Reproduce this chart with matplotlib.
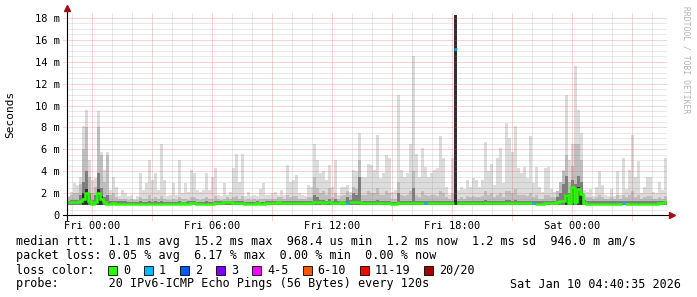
import matplotlib
matplotlib.use("Agg")
import matplotlib.pyplot as plt
from matplotlib.patches import Rectangle
import numpy as np

# ---------------- data ----------------
start_hour = -1.25      # hours relative to Fri 00:00
step_hours = 0.15       # one bin = 9 minutes
smoke_floor = 0.92      # ms

ping_max = [
    1.7, 2.1, 2.9, 2.7, 3.5, 8.1, 9.6, 5.0, 3.2, 3.4, 9.5, 5.8, 4.1, 5.8, 2.3, 3.5, 2.6, 1.7, 2.3, 2.0,
    1.7, 1.8, 1.5, 1.7, 3.8, 2.3, 2.9, 5.0, 3.2, 3.8, 2.3, 6.5, 3.2,
    1.7, 1.8, 2.9, 1.8, 5.0, 2.0, 2.9, 2.1, 4.1, 3.8, 2.3, 2.1, 2.3, 3.8, 2.3, 3.5, 4.3, 1.8, 1.7, 2.9,
    1.8, 2.1, 4.3, 5.6, 3.0, 5.6, 1.7, 2.1, 1.7, 1.8, 1.7, 2.4, 2.9,
    1.8, 1.8, 2.0, 2.1, 1.8, 2.3, 1.8, 4.6, 3.0, 3.2, 3.7, 2.0, 1.8, 1.7, 2.7, 2.6, 6.5, 5.0, 3.8, 4.0,
    3.2, 4.6, 2.6, 5.0, 1.8, 2.6, 2.6, 2.7, 2.1, 4.1, 4.0, 7.5, 3.5,
    3.5, 4.7, 4.6, 4.1, 7.3, 3.4, 3.8, 5.5, 5.2, 2.1, 2.3, 11.0, 4.1, 3.5, 3.8, 6.5, 14.5, 5.6, 3.5, 6.1,
    4.4, 3.5, 3.8, 4.1, 4.3, 7.2, 5.2, 2.6, 1.8, 5.2, 18.3, 2.3, 2.6, 2.4,
    3.2, 2.6, 3.4, 3.2, 2.6, 3.2, 6.7, 4.0, 4.7, 2.7, 5.2, 6.1, 2.9, 8.4, 7.0, 5.8, 8.1, 4.3, 3.8, 4.4,
    3.4, 7.2, 2.9, 4.4, 2.6, 2.1, 4.3, 4.4, 2.4, 2.1, 2.1, 2.4, 4.1,
    11.0, 5.0, 6.5, 13.6, 9.6, 7.5, 2.3, 2.1, 2.4, 1.7, 2.6, 4.0, 2.7, 1.8, 1.7, 2.4, 1.7, 4.0, 1.8, 5.2,
    2.4, 4.1, 7.3, 3.5, 4.9, 2.0, 2.6, 3.5, 3.5, 2.1, 2.0, 3.0, 2.3, 5.2,
]

ping_hi = [
    1.6, 1.8, 2.0, 2.0, 2.8, 6.0, 8.0, 3.5, 2.0, 2.6, 8.0, 5.5, 3.0, 5.5, 1.8, 2.0, 1.6, 1.5, 1.5, 1.5,
    1.4, 1.5, 1.4, 1.4, 1.6, 1.5, 1.5, 1.8, 1.5, 1.6, 1.5, 1.7, 1.5, 1.4, 1.4, 1.5, 1.4, 1.6, 1.5, 1.5,
    1.4, 1.6, 1.6, 1.5, 1.4, 1.5, 1.6, 1.5, 1.5, 1.7, 1.5, 1.4, 1.5, 1.6, 1.5, 1.6, 1.7, 1.5, 1.7, 1.4,
    1.5, 1.4, 1.5, 1.4, 1.5, 1.5, 1.5, 1.5, 1.5, 1.5, 1.6, 1.6, 1.5, 1.8, 1.6, 1.7, 1.7, 1.5, 1.5, 1.5,
    1.6, 1.6, 3.5, 2.5, 2.0, 2.2, 1.8, 2.5, 1.6, 2.0, 1.5, 1.7, 1.8, 2.2, 1.8, 2.6, 2.4, 5.0, 1.8, 1.8,
    2.2, 2.0, 2.0, 2.5, 1.8, 1.8, 2.2, 2.0, 1.5, 1.5, 3.0, 1.8, 1.7, 1.8, 2.2, 4.0, 1.8, 1.6, 2.2, 1.8,
    1.7, 1.8, 1.8, 1.7, 2.2, 2.0, 1.6, 1.5, 2.0, 18.3, 1.5, 1.6, 1.5, 1.7, 1.6, 1.7, 1.6, 1.6, 1.7, 2.2,
    1.8, 2.0, 1.6, 1.8, 2.0, 1.6, 2.2, 2.2, 2.0, 2.4, 1.8, 1.8, 1.8, 1.7, 2.0, 1.6, 1.8, 1.5, 1.5, 1.8,
    1.8, 1.6, 1.6, 2.2, 3.0, 4.0, 5.5, 3.0, 4.5, 6.5, 6.5, 5.0, 1.8, 1.6, 1.6, 1.5, 1.6, 1.8, 1.6, 1.5,
    1.5, 1.6, 1.5, 1.8, 1.5, 1.8, 1.6, 1.8, 2.2, 1.6, 1.8, 1.5, 1.6, 1.7, 1.7, 1.5, 1.5, 1.6, 1.5, 1.7,
]

ping_dark = [
    1.3, 1.35, 1.4, 1.4, 1.8, 3.0, 4.0, 2.0, 1.35, 1.8, 3.8, 2.5, 1.6, 1.8, 1.3, 1.3, 1.25, 1.25, 1.25, 1.25,
    1.2, 1.2, 1.2, 1.2, 1.25, 1.2, 1.2, 1.25, 1.2, 1.25, 1.2, 1.25, 1.2, 1.2, 1.2, 1.2, 1.2, 1.25, 1.2, 1.2,
    1.25, 1.25, 1.25, 1.2, 1.2, 1.2, 1.25, 1.2, 1.2, 1.25, 1.25, 1.25, 1.3, 1.3, 1.3, 1.25, 1.25, 1.25, 1.25, 1.2,
    1.2, 1.2, 1.2, 1.25, 1.2, 1.2, 1.25, 1.25, 1.25, 1.25, 1.3, 1.25, 1.25, 1.3, 1.25, 1.3, 1.3, 1.25, 1.25, 1.25,
    1.3, 1.3, 1.8, 1.6, 1.4, 1.4, 1.3, 1.5, 1.3, 1.5, 1.3, 1.3, 1.3, 1.6, 1.4, 2.0, 1.8, 3.5, 1.3, 1.3,
    1.3, 1.3, 1.3, 1.4, 1.3, 1.3, 1.3, 1.3, 1.2, 1.2, 2.0, 1.3, 1.3, 1.3, 1.3, 2.5, 1.3, 1.3, 1.3, 1.3,
    1.3, 1.3, 1.3, 1.3, 1.3, 1.3, 1.3, 1.25, 1.3, 18.3, 1.25, 1.3, 1.25, 1.3, 1.3, 1.3, 1.3, 1.3, 1.3, 1.35,
    1.3, 1.3, 1.3, 1.3, 1.3, 1.3, 1.35, 1.35, 1.3, 1.4, 1.3, 1.3, 1.3, 1.3, 1.3, 1.3, 1.25, 1.25, 1.25, 1.3,
    1.3, 1.3, 1.3, 1.6, 2.0, 2.8, 3.6, 2.0, 3.2, 2.8, 3.6, 3.0, 1.4, 1.3, 1.3, 1.3, 1.3, 1.3, 1.3, 1.25,
    1.25, 1.25, 1.25, 1.3, 1.25, 1.3, 1.25, 1.3, 1.3, 1.25, 1.3, 1.25, 1.25, 1.3, 1.3, 1.25, 1.25, 1.3, 1.3, 1.3,
]

median = [
    1.15, 1.15, 1.15, 1.2, 1.3, 1.5, 2.0, 1.3, 1.05, 1.2, 2.0, 1.5, 1.15, 1.0, 1.05, 1.1, 1.0, 1.05, 1.05, 1.05,
    1.05, 1.05, 1.0, 1.05, 1.05, 1.05, 1.05, 1.05, 1.05, 1.05, 1.05, 1.05, 1.05, 1.05, 1.05, 1.05, 1.05, 1.05, 1.1, 1.05,
    1.05, 1.1, 1.1, 1.05, 1.05, 1.05, 1.05, 1.05, 1.05, 1.1, 1.1, 1.1, 1.15, 1.2, 1.15, 1.1, 1.1, 1.1, 1.1, 1.05,
    1.05, 1.05, 1.05, 1.1, 1.05, 1.05, 1.1, 1.1, 1.1, 1.1, 1.15, 1.1, 1.1, 1.1, 1.1, 1.1, 1.1, 1.1, 1.1, 1.1,
    1.1, 1.1, 1.15, 1.15, 1.15, 1.1, 1.15, 1.15, 1.1, 1.1, 1.1, 1.15, 1.1, 1.1, 1.15, 1.15, 1.15, 1.2, 1.1, 1.1,
    1.1, 1.1, 1.1, 1.1, 1.1, 1.1, 1.1, 1.1, 1.05, 1.05, 1.1, 1.1, 1.1, 1.1, 1.1, 1.1, 1.1, 1.1, 1.1, 1.1,
    1.1, 1.1, 1.1, 1.1, 1.1, 1.1, 1.1, 1.1, 1.1, 15.2, 1.1, 1.1, 1.1, 1.1, 1.1, 1.1, 1.1, 1.1, 1.1, 1.1,
    1.1, 1.1, 1.1, 1.1, 1.1, 1.1, 1.1, 1.1, 1.1, 1.1, 1.1, 1.1, 1.1, 1.1, 1.1, 1.1, 1.05, 1.05, 1.05, 1.1,
    1.1, 1.1, 1.1, 1.2, 1.3, 1.3, 1.8, 1.1, 2.6, 1.2, 2.4, 1.9, 1.1, 1.05, 1.05, 1.05, 1.05, 1.05, 1.05, 1.05,
    1.05, 1.05, 1.05, 1.05, 1.05, 1.1, 1.05, 1.05, 1.05, 1.05, 1.05, 1.05, 1.05, 1.05, 1.05, 1.05, 1.05, 1.1, 1.1, 1.15,
]

# bins where 1 of 20 pings was lost
loss1_bins = [93, 119, 129, 155, 185]

# darkest smoke cores
core_bins = [5, 6, 10, 11, 129, 166, 168, 170, 171]
core_top = [2.0, 2.4, 2.4, 1.7, 18.3, 1.9, 2.6, 2.6, 2.0]

x_tick_hours = [0, 6, 12, 18, 24]
x_tick_labels = ["Fri 00:00", "Fri 06:00", "Fri 12:00", "Fri 18:00", "Sat 00:00"]
y_ticks = [0, 2, 4, 6, 8, 10, 12, 14, 16, 18]
y_tick_labels = ["0", "2 m", "4 m", "6 m", "8 m", "10 m", "12 m", "14 m", "16 m", "18 m"]

loss_labels = ["0", "1", "2", "3", "4-5", "6-10", "11-19", "20/20"]
loss_colors = ["#26ff00", "#00b8ff", "#0059ff", "#7e00ff", "#ff00ff", "#ff5500", "#ff0000", "#a10000"]

legend_rows = [
    "median rtt:  1.1 ms avg  15.2 ms max  968.4 us min  1.2 ms now  1.2 ms sd  946.0 m am/s",
    "packet loss: 0.05 % avg  6.17 % max  0.00 % min  0.00 % now",
    "loss color:",
    "probe:       20 IPv6-ICMP Echo Pings (56 Bytes) every 120s",
]
timestamp = "Sat Jan 10 04:40:35 2026"

# ---------------- figure ----------------
W, H = 697, 297
MONO = "DejaVu Sans Mono"
fig = plt.figure(figsize=(W / 100, H / 100), dpi=100)
fig.patch.set_facecolor("white")

x0_px, x1_px = 67, 667
y0_px, y1_px = 215, 12.5
ax = fig.add_axes([x0_px / W, (H - y0_px) / H, (x1_px - x0_px) / W, (y0_px - y1_px) / H])
xmin = start_hour
xmax = start_hour + step_hours * len(ping_max)
ymax = 18.5
ax.set_xlim(xmin, xmax)
ax.set_ylim(0, ymax)
ax.set_facecolor("white")
for s in ax.spines.values():
    s.set_visible(False)

n = len(ping_max)
edges = start_hour + step_hours * np.arange(n + 1)

ax.stairs(ping_max, edges, baseline=smoke_floor, fill=True, color="#dcdcdc", lw=0, zorder=1)
ax.stairs(ping_hi, edges, baseline=smoke_floor, fill=True, color="#bebebe", lw=0, zorder=1.1)
ax.stairs(ping_dark, edges, baseline=smoke_floor, fill=True, color="#7e7e7e", lw=0, zorder=1.2)
ax.bar(edges[core_bins], np.array(core_top) - smoke_floor, width=step_hours, bottom=smoke_floor,
       align="edge", color="#2e2e2e", lw=0, zorder=1.3)

# grid (rrdtool style, dotted)
minor_c = (0.5, 0.5, 0.5, 0.35)
major_c = (0.88, 0.38, 0.38, 0.55)
dot = (0, (1, 1))
for yv in np.arange(0.5, ymax, 0.5):
    if abs(yv / 2 - round(yv / 2)) > 1e-6:
        ax.plot([xmin, xmax], [yv, yv], color=minor_c, lw=0.72, ls=dot, zorder=2)
for h in range(-1, 29):
    if h % 3 != 0:
        ax.plot([h, h], [0, ymax], color=minor_c, lw=0.72, ls=dot, zorder=2)
for yv in y_ticks[1:]:
    ax.plot([xmin - 0.2, xmax], [yv, yv], color=major_c, lw=0.72, ls=dot, zorder=2.1, clip_on=False)
for h in range(0, 29, 3):
    ax.plot([h, h], [-0.45, ymax], color=major_c, lw=0.72, ls=dot, zorder=2.1, clip_on=False)

# median line coloured by loss
med = np.array(median, dtype=float)
is_loss = np.zeros(n, dtype=bool)
is_loss[loss1_bins] = True
green = np.where(is_loss, np.nan, med)
ax.stairs(green, edges, baseline=None, color=loss_colors[0], lw=1.8, zorder=3)
for b in loss1_bins:
    ax.plot([edges[b], edges[b + 1]], [med[b], med[b]], color=loss_colors[1], lw=1.8,
            solid_capstyle="butt", zorder=3.1)

# axes lines and arrows
ax.plot([xmin, xmin], [-0.45, ymax + 0.3], color="black", lw=0.8, clip_on=False, zorder=4)
ax.plot([xmin - 0.2, xmax + 0.15], [0, 0], color="black", lw=0.8, clip_on=False, zorder=4)
ax.plot([xmin], [ymax + 0.45], marker="^", ms=4, color="#a01010", clip_on=False, zorder=5)
ax.plot([xmax + 0.25], [0], marker=">", ms=4, color="#a01010", clip_on=False, zorder=5)

ax.set_xticks(x_tick_hours)
ax.set_xticklabels(x_tick_labels, family=MONO, fontsize=7.5)
ax.set_yticks(y_ticks)
ax.set_yticklabels(y_tick_labels, family=MONO, fontsize=7.5)
ax.tick_params(axis="both", length=0)
ax.tick_params(axis="x", pad=4.5)
ax.tick_params(axis="y", pad=5)

# overlay for texts in pixel coordinates
ov = fig.add_axes([0, 0, 1, 1], facecolor="none")
ov.set_xlim(0, W)
ov.set_ylim(H, 0)
ov.axis("off")

ov.text(10, 114, "Seconds", rotation=90, family=MONO, fontsize=8, ha="center", va="center")
ov.text(686, 60, "RRDTOOL / TOBI OETIKER", rotation=270, family=MONO, fontsize=5.8,
        color="#b4b4b4", ha="center", va="center")

row_y = [241, 255.5, 270, 284]
for txt, yy in zip(legend_rows, row_y):
    ov.text(16, yy, txt, family=MONO, fontsize=8.5, ha="left", va="center")
ov.text(681, row_y[3], timestamp, family=MONO, fontsize=8.5, ha="right", va="center")

cw = 7.08
sx = 108
for lab, col in zip(loss_labels, loss_colors):
    ov.add_patch(Rectangle((sx, row_y[2] - 4.5), 9, 9, facecolor=col, edgecolor="black", lw=0.6))
    tx = sx + 15
    ov.text(tx, row_y[2], lab, family=MONO, fontsize=8.5, ha="left", va="center")
    sx = tx + len(lab) * cw + 14

fig.savefig("out.png", dpi=100, facecolor="white")
